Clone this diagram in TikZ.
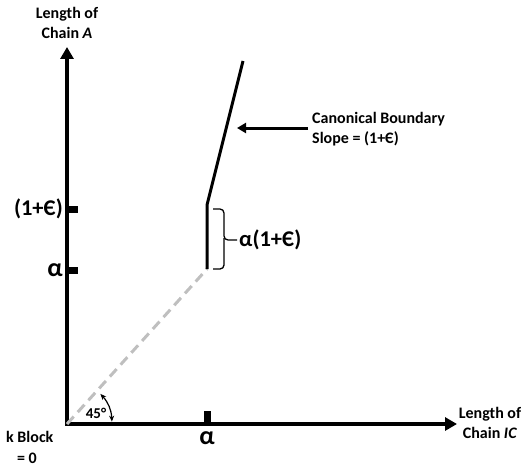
\documentclass[tikz,border=0pt]{standalone}
\usepackage{fontspec}
\setmainfont{Carlito}
\usetikzlibrary{arrows.meta}
\begin{document}
\begin{tikzpicture}[x=1pt,y=-1pt,
  lbl/.style={font=\bfseries\fontsize{16}{20}\selectfont, align=center, inner sep=0pt},
  big/.style={font=\bfseries\fontsize{22.5}{24}\selectfont, inner sep=0pt},
  alph/.style={font=\bfseries\fontsize{26}{26}\selectfont, inner sep=0pt},
  axis/.style={line width=4pt, {Triangle[length=12pt,width=13pt]}-{Triangle[length=12pt,width=13pt]}},
  tick/.style={fill=black},
  boundary/.style={line width=3pt},
  diag/.style={line width=3pt, color=black!25, dash pattern=on 10pt off 6pt}]
\useasboundingbox (0,0) rectangle (524,468);
\coordinate (ytop) at (67,47);
\coordinate (O) at (67,424);
\coordinate (xend) at (457,424);
\draw[axis] (ytop) -- (O) -- (xend);
% ticks
\fill[tick] (68,206) rectangle (78,213);
\fill[tick] (68,266.5) rectangle (78,273.5);
\fill[tick] (203.5,411) rectangle (210.5,423);
% tick labels
\node[big, anchor=east] (t1) at (63,209) {(1+Є)};
\node[alph, anchor=east] (t2) at (63,270) {α};
\node[alph] (t3) at (207,438) {α};
% axis titles
\node[lbl] (ya) at (67,23) {Length of\\Chain \textit{A}};
\node[lbl] (xa) at (490,423) {Length of\\Chain \textit{IC}};
\node[lbl, anchor=west] (gb) at (6,437) {k Block};
\node[lbl] (g0) at (27,458) {= 0};
% diagonal and boundary
\coordinate (K1) at (207,269);
\coordinate (K2) at (207,205);
\coordinate (K3) at (243,61);
\draw[diag] (O) -- (K1);
\draw[boundary, line join=miter] (K1) -- (K2) -- (K3);
% brace
\draw[line width=1.3pt, rounded corners=4pt] (213,209) -- (224,209) -- (224,240) -- (237,240);
\draw[line width=1.3pt, rounded corners=4pt] (224,238) -- (224,269) -- (213,269);
\node[big, anchor=west] (br) at (239,240) {α(1+Є)};
% canonical boundary label
\node[lbl, align=left, anchor=west] (cb) at (312,129.5) {Canonical Boundary\\Slope = (1+Є)};
\coordinate (ah) at (237,128);
\draw[line width=3pt, -{Triangle[length=9pt,width=10pt]}] (308,128) -- (ah);
% 45 degree arc
\coordinate (A1) at (100.4,393.9);
\coordinate (A2) at (111.9,421.6);
\draw[line width=1.2pt, {Stealth[length=6pt,width=5pt]}-{Stealth[length=6pt,width=5pt]}] (A1) to[bend left=20] (A2);
\node[lbl, font=\bfseries\fontsize{15}{18}\selectfont] (deg) at (96,413) {45°};
\end{tikzpicture}
\end{document}
